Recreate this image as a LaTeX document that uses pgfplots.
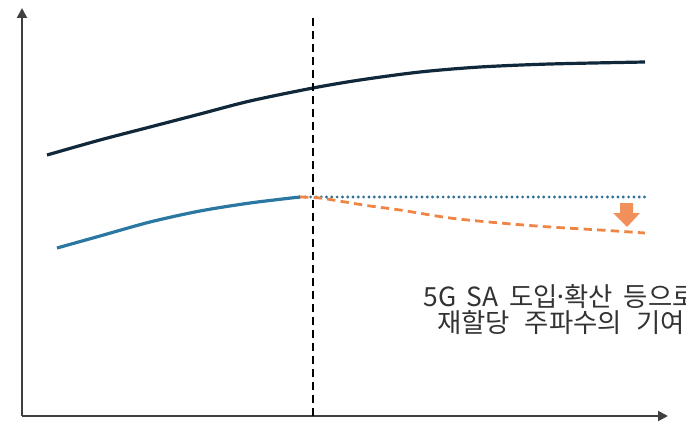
\documentclass[border=0pt]{standalone}
\usepackage{pgfplots}
\pgfplotsset{compat=1.18}
\usetikzlibrary{arrows.meta}
\usepackage{fontspec}
\newfontfamily\kr{Noto Sans CJK KR}
\definecolor{axisgray}{HTML}{404040}
\definecolor{darkline}{HTML}{10283A}
\definecolor{blueline}{HTML}{2A78A2}
\definecolor{dotblue}{HTML}{2F6F96}
\definecolor{orangeline}{HTML}{EE8544}
\definecolor{arroworange}{HTML}{F2905C}
\definecolor{textgray}{HTML}{333333}
\begin{document}
\begin{tikzpicture}[
    note/.style={anchor=base west, inner sep=0pt, text=textgray,
        font=\kr\fontsize{13.2}{14}\selectfont}]
\begin{axis}[
    scale only axis,
    width=323pt, height=204pt,
    xmin=22, xmax=668, ymin=24, ymax=432,
    axis lines=left,
    ticks=none,
    clip=false,
    axis line style={line width=1pt, color=axisgray, -{Triangle[length=5pt,width=5pt]}},
]
% total (dark) curve
\addplot[darkline, line width=1.6pt, smooth] coordinates {
    (47,285) (100,300) (150,313) (200,326) (250,339) (313,352)
    (360,360) (420,368) (480,373) (550,376) (645,378)
};
% blue curve up to the divider
\addplot[blueline, line width=1.6pt, smooth] coordinates {
    (57,192) (100,204) (150,218) (200,229) (250,237) (300,243)
};
% flat dotted continuation
\addplot[dotblue, line width=1.6pt, line cap=round, dash pattern=on 0pt off 2.65pt] coordinates {
    (300,243) (645,243)
};
% orange dashed decline
\addplot[orangeline, line width=1.4pt, dash pattern=on 4.2pt off 2.6pt, smooth] coordinates {
    (300,243) (320,242) (345,238) (370,234) (400,230) (450,222)
    (500,217) (550,213) (600,210) (645,207)
};
% vertical divider
\addplot[black, line width=1pt, dash pattern=on 4pt off 2.5pt] coordinates {
    (313,24) (313,423)
};
% down arrow
\fill[arroworange] (axis cs:620,237) -- (axis cs:633,237) -- (axis cs:633,227)
    -- (axis cs:640,227) -- (axis cs:627,213) -- (axis cs:613,227)
    -- (axis cs:620,227) -- cycle;
% annotation (runs past the right edge as in the source)
\node[note] at (axis cs:423,134)
    {\spaceskip=0.4em 5G SA 도입{\kern-0.15em}·{\kern-0.15em}확산 등으로};
\node[note] at (axis cs:437,108)
    {\spaceskip=0.55em 재할당 주파수의 기여};
\coordinate (bl) at (axis cs:0,0);
\coordinate (tr) at (axis cs:686,440);
\end{axis}
\pgfresetboundingbox
\path[use as bounding box] (bl) rectangle (tr);
\end{tikzpicture}
\end{document}
